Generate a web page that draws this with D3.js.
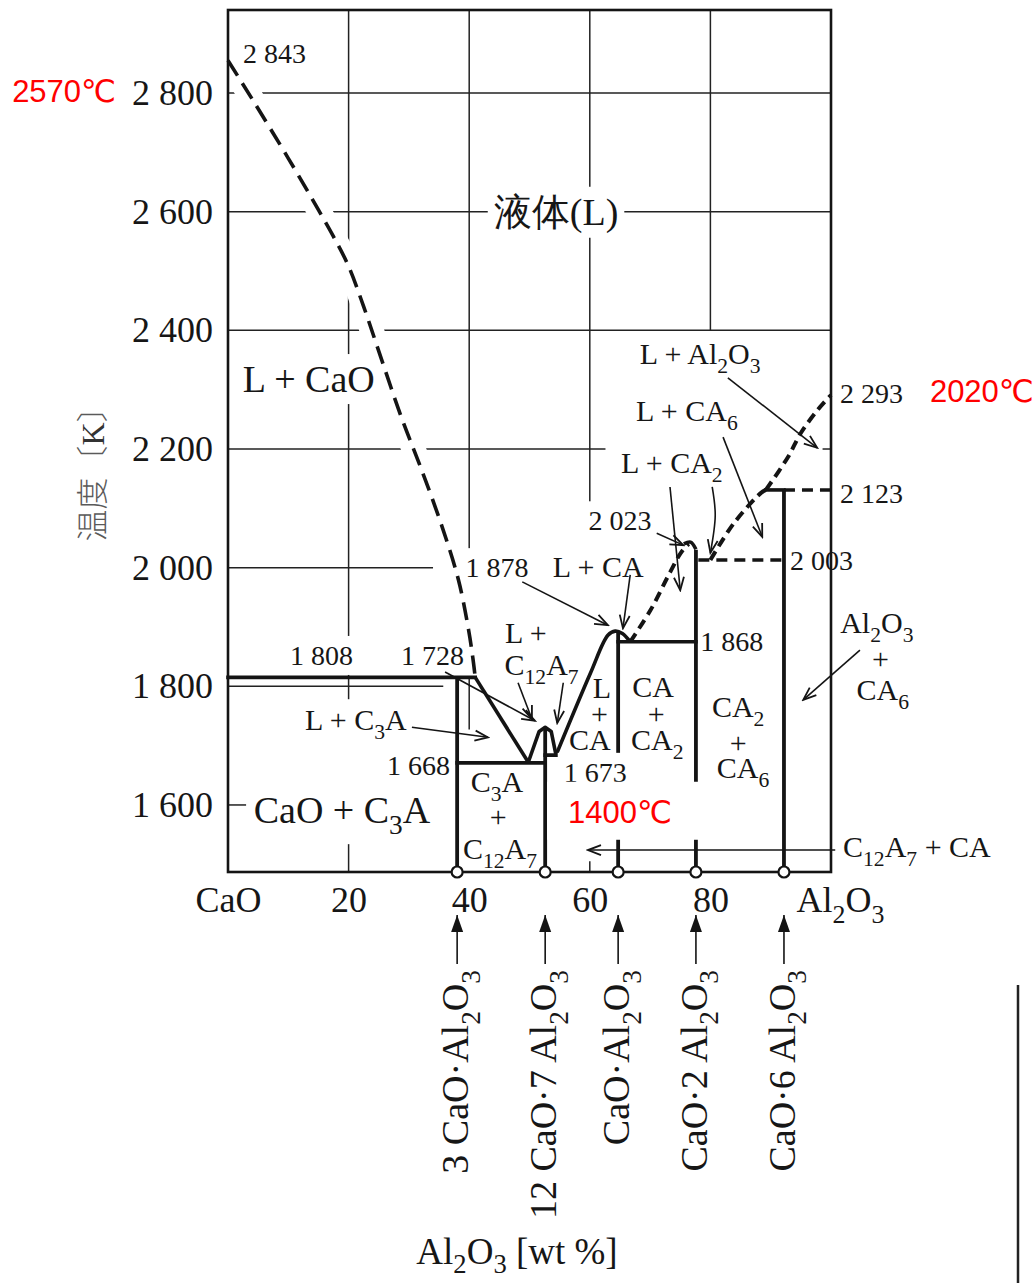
<!DOCTYPE html>
<html>
<head>
<meta charset="utf-8">
<script src="https://cdn.jsdelivr.net/npm/d3@7"></script>
<style>
  body { margin: 0; background: #fff; }
  svg text { font-family: "Liberation Serif", "Times New Roman", serif; fill: #161616; }
</style>
</head>
<body>
<svg id="chart" width="1034" height="1283"></svg>
<script>
// axis ticks
const xTicks = [0, 20, 40, 60, 80, 100];
const xTickLabels = ['CaO', '20', '40', '60', '80', 'Al_2O_3'];
const yTicks = [1600, 1800, 2000, 2200, 2400, 2600, 2800];
const yTickLabels = ['1 600', '1 800', '2 000', '2 200', '2 400', '2 600', '2 800'];

// compounds: wt% Al2O3 and top of the vertical line [K]
const compounds = [
  { label: '3 CaO·Al_2O_3', x: 38.0, top: 1815 },
  { label: '12 CaO·7 Al_2O_3', x: 52.6, top: 1731 },
  { label: 'CaO·Al_2O_3', x: 64.7, top: 1890 },
  { label: 'CaO·2 Al_2O_3', x: 77.6, top: 2030 },
  { label: 'CaO·6 Al_2O_3', x: 92.2, top: 2131 }
];

// liquidus curves [wt%, K]
const liqCaO = [[0, 2855], [4, 2790], [10, 2690], [15, 2603], [17.5, 2558], [20, 2508], [22.5, 2440],
  [25, 2365], [28.7, 2255], [32.1, 2165], [35.4, 2072], [38.2, 1980], [39.9, 1895], [40.6, 1848], [41.0, 1815]];
const liqC3A = [[41.0, 1815], [49.8, 1672]];
const liqC12A7 = [[49.8, 1672], [51.6, 1724], [52.6, 1731], [53.6, 1724], [54.4, 1684]];
const liqCA = [[54.4, 1684], [60.1, 1822], [63.0, 1886], [64.2, 1893], [65.4, 1889], [66.7, 1875]];
const liqCA2 = [[66.7, 1875], [70.1, 1929], [72.9, 1984], [75.1, 2025], [76.4, 2040]];
const capCA2 = [[75.6, 2040], [76.7, 2043], [77.6, 2031]];
const liqCA6 = [[80.0, 2013], [83.9, 2075], [88.4, 2126], [89.2, 2131]];
const liqAl2O3 = [[89.2, 2131], [92.9, 2187], [95.0, 2227], [97.8, 2266], [100, 2291]];

// horizontal invariant lines
const isoSolid = [
  { t: 1815, x0: 0, x1: 41.0 },
  { t: 1671, x0: 38.0, x1: 52.6 },
  { t: 1684, x0: 52.6, x1: 64.7 },
  { t: 1875, x0: 64.7, x1: 77.6 },
  { t: 2131, x0: 89.2, x1: 92.2 }
];
const isoDashed = [
  { t: 2013, x0: 78.0, x1: 92.2 },
  { t: 2131, x0: 92.2, x1: 100 }
];

// grid pieces that survive in the printed figure
const hGrid = [
  { t: 2800, x0: 0, x1: 100 }, { t: 2600, x0: 0, x1: 100 }, { t: 2400, x0: 0, x1: 100 },
  { t: 2200, x0: 0, x1: 62.6 }, { t: 2200, x0: 98.6, x1: 100 },
  { t: 2000, x0: 0, x1: 34 }, { t: 1800, x0: 0, x1: 35.7 }, { t: 1600, x0: 0, x1: 3 }
];
const vGrid = [
  { p: 20, t0: 1777, t1: 2940 }, { p: 20, t0: 1487, t1: 1545 },
  { p: 40, t0: 1727, t1: 2940 }, { p: 40, t0: 1487, t1: 1505 },
  { p: 60, t0: 2060, t1: 2940 }, { p: 60, t0: 1487, t1: 1505 },
  { p: 80, t0: 2400, t1: 2940 }
];

// temperature labels: text, wt%, K, anchor, hides lines below it
const valueLabels = [
  ['2 843', 2.5, 2851, 'start', false], ['1 808', 15.5, 1836, 'middle', false],
  ['1 728', 33.9, 1836, 'middle', false], ['1 668', 31.6, 1650, 'middle', false],
  ['1 673', 60.9, 1639, 'middle', true], ['1 878', 44.6, 1984, 'middle', false],
  ['2 023', 65.0, 2063, 'middle', false], ['1 868', 78.3, 1860, 'start', false],
  ['2 003', 93.2, 1996, 'start', false], ['2 123', 101.5, 2109, 'start', false],
  ['2 293', 101.5, 2277, 'start', false]
];
// phase field labels
const bigLabels = [['液体(L)', 54.4, 2578], ['L + CaO', 13.4, 2296], ['CaO + C_3A', 18.9, 1570]];
const phaseLabels = [
  ['L + Al_2O_3', 78.3, 2343, 'middle'], ['L + CA_6', 76.1, 2247, 'middle'], ['L + CA_2', 73.6, 2160, 'middle'],
  ['L + CA', 61.4, 1984, 'middle'], ['L + C_3A', 21.2, 1726, 'middle'],
  ['L +', 49.4, 1873, 'middle'], ['C_12A_7', 52.0, 1819, 'middle'],
  ['L', 62.0, 1780, 'middle'], ['+', 61.6, 1737, 'middle'], ['CA', 60.0, 1693, 'middle'],
  ['CA', 70.5, 1782, 'middle'], ['+', 71.0, 1737, 'middle'], ['CA_2', 71.2, 1693, 'middle'],
  ['CA_2', 84.6, 1748, 'middle'], ['+', 84.6, 1688, 'middle'], ['CA_6', 85.4, 1645, 'middle'],
  ['C_3A', 44.6, 1622, 'middle'], ['+', 44.8, 1563, 'middle'], ['C_12A_7', 45.1, 1509, 'middle'],
  ['Al_2O_3', 107.6, 1890, 'middle'], ['+', 108.2, 1829, 'middle'], ['CA_6', 108.6, 1777, 'middle'],
  ['C_12A_7 + CA', 102.0, 1512, 'start']
];

// leader arrows [wt%, K]
const arrows = [
  [[30.5, 1731], [43.1, 1714]],
  [[36.0, 1824], [50.9, 1742]],
  [[48.1, 1806], [50.4, 1745]],
  [[55.6, 1806], [54.6, 1738]],
  [[48.8, 1976], [63.0, 1903]],
  [[66.7, 1988], [65.5, 1898]],
  [[71.1, 2058], [75.5, 2038]],
  [[73.3, 2136], [75.0, 1962]],
  [[80.3, 2136], [80.8, 2088], [80.0, 2025]],
  [[82.1, 2220], [88.6, 2052]],
  [[82.9, 2320], [97.7, 2202]],
  [[104.8, 1861], [95.4, 1777]],
  [[100.7, 1524], [59.7, 1524]]
];

// red notes added on top of the figure
const redNotes = [
  { text: '2570℃', x: -35.8, t: 2785, box: false },
  { text: '2020℃', x: 116.4, t: 2279, box: false },
  { text: '1400℃', x: 56.4, t: 1570, box: true }
];

const svg = d3.select('#chart');
const x = d3.scaleLinear().domain([0, 100]).range([228, 831]);
const y = d3.scaleLinear().domain([1487, 2940]).range([872, 10]);
const X0 = x(0), X1 = x(100), Y0 = y(1487), Y1 = y(2940);
const ink = '#141414';

const defs = svg.append('defs');
defs.append('marker').attr('id', 'ah').attr('viewBox', '-15 -7 17 14')
  .attr('refX', 0).attr('refY', 0).attr('markerWidth', 17).attr('markerHeight', 14)
  .attr('markerUnits', 'userSpaceOnUse').attr('orient', 'auto')
  .append('path').attr('d', 'M-13,-5 L0,0 L-13,5').attr('fill', 'none')
  .attr('stroke', ink).attr('stroke-width', 1.8);
defs.append('marker').attr('id', 'ahf').attr('viewBox', '-18 -8 20 16')
  .attr('refX', 0).attr('refY', 0).attr('markerWidth', 20).attr('markerHeight', 16)
  .attr('markerUnits', 'userSpaceOnUse').attr('orient', 'auto')
  .append('path').attr('d', 'M-17,-6 L0,0 L-17,6 Z').attr('fill', ink);

const gGrid = svg.append('g');
const gBg = svg.append('g');
const gHalo = svg.append('g');
const gPhase = svg.append('g');
const gCover = svg.append('g');
const gArrow = svg.append('g');
const gText = svg.append('g');
const gTop = svg.append('g');

// text with _digits as subscripts; dy only set when it shifts
function addRich (sel, str, fs, k = 0.3) {
  const parts = str.split(/(_\d+)/).filter(Boolean);
  const sh = fs * k;
  let down = false;
  parts.forEach(p => {
    const ts = sel.append('tspan');
    if (p[0] === '_') {
      ts.text(p.slice(1)).attr('font-size', fs * 0.72);
      if (!down) ts.attr('dy', sh);
      down = true;
    } else {
      ts.text(p);
      if (down) ts.attr('dy', -sh);
      down = false;
    }
  });
}

// grid
gGrid.selectAll('line.h').data(hGrid).enter().append('line')
  .attr('x1', d => x(d.x0)).attr('x2', d => x(d.x1))
  .attr('y1', d => y(d.t)).attr('y2', d => y(d.t))
  .attr('stroke', '#222').attr('stroke-width', 1.5);
gGrid.selectAll('line.v').data(vGrid).enter().append('line')
  .attr('x1', d => x(d.p)).attr('x2', d => x(d.p))
  .attr('y1', d => y(d.t0)).attr('y2', d => y(d.t1))
  .attr('stroke', '#222').attr('stroke-width', 1.5);

// axes
const yAxis = d3.axisLeft(y).tickValues(yTicks).tickSize(0).tickPadding(15)
  .tickFormat((d, i) => yTickLabels[i]);
svg.append('g').attr('transform', `translate(${X0},0)`).call(yAxis)
  .attr('font-size', 36).attr('font-family', '"Liberation Serif", serif')
  .call(g => g.select('.domain').remove());

const xAxis = d3.axisBottom(x).tickValues(xTicks).tickSize(0).tickPadding(14);
svg.append('g').attr('transform', `translate(0,${Y0})`).call(xAxis)
  .attr('font-size', 36).attr('font-family', '"Liberation Serif", serif')
  .call(g => g.select('.domain').remove())
  .selectAll('.tick text').each(function (d) {
    const t = d3.select(this).text(null).attr('y', 40).attr('dy', null);
    addRich(t, xTickLabels[xTicks.indexOf(d)], 36);
    if (d === 100) t.attr('dx', 9);
  });

// labels (text on top, white patches below to break the grid)
function placeLabel (str, px, tk, fs, anchor, cover) {
  const t = gText.append('text').attr('x', x(px)).attr('y', y(tk))
    .attr('font-size', fs).attr('text-anchor', anchor);
  addRich(t, str, fs);
  const b = t.node().getBBox();
  (cover ? gCover : gBg).append('rect').attr('x', b.x - 6).attr('y', b.y - 4)
    .attr('width', b.width + 12).attr('height', b.height + 8).attr('fill', '#fff');
  return t;
}
valueLabels.forEach(d => placeLabel(d[0], d[1], d[2], 28, d[3], d[4]));
bigLabels.forEach(d => placeLabel(d[0], d[1], d[2], 38, 'middle', false));
phaseLabels.forEach(d => placeLabel(d[0], d[1], d[2], 30, d[3], false));

// phase boundaries
const line = d3.line().x(d => x(d[0])).y(d => y(d[1])).curve(d3.curveCatmullRom);
const lineStraight = d3.line().x(d => x(d[0])).y(d => y(d[1]));
const dashedCurves = [liqCA2, liqCA6, liqAl2O3];

gHalo.append('path').attr('d', line(liqCaO)).attr('fill', 'none')
  .attr('stroke', '#fff').attr('stroke-width', 24);
dashedCurves.forEach(c => gHalo.append('path').attr('d', line(c)).attr('fill', 'none')
  .attr('stroke', '#fff').attr('stroke-width', 10));

gPhase.append('path').attr('d', line(liqCaO)).attr('fill', 'none')
  .attr('stroke', ink).attr('stroke-width', 3.6).attr('stroke-dasharray', '18,9');
dashedCurves.forEach(c => gPhase.append('path').attr('d', line(c)).attr('fill', 'none')
  .attr('stroke', ink).attr('stroke-width', 4).attr('stroke-dasharray', '10,6'));
[liqCA, capCA2].forEach(c => gPhase.append('path').attr('d', line(c))
  .attr('fill', 'none').attr('stroke', ink).attr('stroke-width', 3.6).attr('stroke-linejoin', 'round'));
[liqC3A, liqC12A7].forEach(c => gPhase.append('path').attr('d', lineStraight(c))
  .attr('fill', 'none').attr('stroke', ink).attr('stroke-width', 3.6).attr('stroke-linejoin', 'round'));

gPhase.selectAll('line.iso').data(isoSolid).enter().append('line')
  .attr('x1', d => x(d.x0)).attr('x2', d => x(d.x1))
  .attr('y1', d => y(d.t)).attr('y2', d => y(d.t))
  .attr('stroke', ink).attr('stroke-width', 3.6).attr('stroke-linecap', 'square');
gPhase.selectAll('line.isod').data(isoDashed).enter().append('line')
  .attr('x1', d => x(d.x0)).attr('x2', d => x(d.x1))
  .attr('y1', d => y(d.t)).attr('y2', d => y(d.t))
  .attr('stroke', ink).attr('stroke-width', 3.6).attr('stroke-dasharray', '11,7');

gPhase.selectAll('line.cmp').data(compounds).enter().append('line')
  .attr('x1', d => x(d.x)).attr('x2', d => x(d.x))
  .attr('y1', Y0).attr('y2', d => y(d.top))
  .attr('stroke', ink).attr('stroke-width', 3.8);

gPhase.append('rect').attr('x', X0).attr('y', Y1).attr('width', X1 - X0).attr('height', Y0 - Y1)
  .attr('fill', 'none').attr('stroke', ink).attr('stroke-width', 2.6);

gPhase.selectAll('circle').data(compounds).enter().append('circle')
  .attr('cx', d => x(d.x)).attr('cy', Y0).attr('r', 5.5)
  .attr('fill', '#fff').attr('stroke', ink).attr('stroke-width', 2.2);

// leader arrows
const arrowLine = d3.line().x(d => x(d[0])).y(d => y(d[1])).curve(d3.curveCatmullRom);
gArrow.selectAll('path').data(arrows).enter().append('path')
  .attr('d', arrowLine).attr('fill', 'none').attr('stroke', ink).attr('stroke-width', 1.6)
  .attr('marker-end', 'url(#ah)');

// compound names under the axis
const gCmp = svg.append('g');
compounds.forEach(c => {
  const cx = x(c.x);
  gCmp.append('line').attr('x1', cx).attr('x2', cx).attr('y1', 964).attr('y2', 915)
    .attr('stroke', ink).attr('stroke-width', 1.6).attr('marker-end', 'url(#ahf)');
  const t = gCmp.append('text').attr('transform', `translate(${cx + 11},970) rotate(-90)`)
    .attr('text-anchor', 'end').attr('font-size', 38);
  addRich(t, c.label, 38);
});

// axis titles
const xt = svg.append('text').attr('x', 517).attr('y', 1264).attr('text-anchor', 'middle')
  .attr('font-size', 37);
addRich(xt, 'Al_2O_3 [wt %]', 37, 0.25);

const yt = svg.append('text').attr('transform', 'translate(104,466) rotate(-90)')
  .attr('text-anchor', 'middle').attr('font-size', 32)
  .style('font-family', '"Noto Sans CJK JP", sans-serif').style('fill', '#5a5a5a')
  .style('font-weight', 300);
yt.append('tspan').text('温度〔');
yt.append('tspan').text('K').style('font-family', '"Liberation Serif", serif').style('fill', '#333');
yt.append('tspan').text('〕');

// red notes
redNotes.forEach(n => {
  const t = gTop.append('text').attr('x', x(n.x)).attr('y', y(n.t)).text(n.text)
    .attr('font-size', 31).style('font-family', '"Liberation Sans", "DejaVu Sans", sans-serif')
    .style('fill', '#ff0000');
  if (n.box) {
    const b = t.node().getBBox();
    gTop.insert('rect', 'text').attr('x', b.x - 21).attr('y', b.y - 13)
      .attr('width', b.width + 51).attr('height', b.height + 23).attr('fill', '#fff');
  }
});

// stray scan edge at the lower right
svg.append('line').attr('x1', 1018).attr('x2', 1018).attr('y1', 985).attr('y2', 1283)
  .attr('stroke', '#222').attr('stroke-width', 2.5);
</script>
</body>
</html>
